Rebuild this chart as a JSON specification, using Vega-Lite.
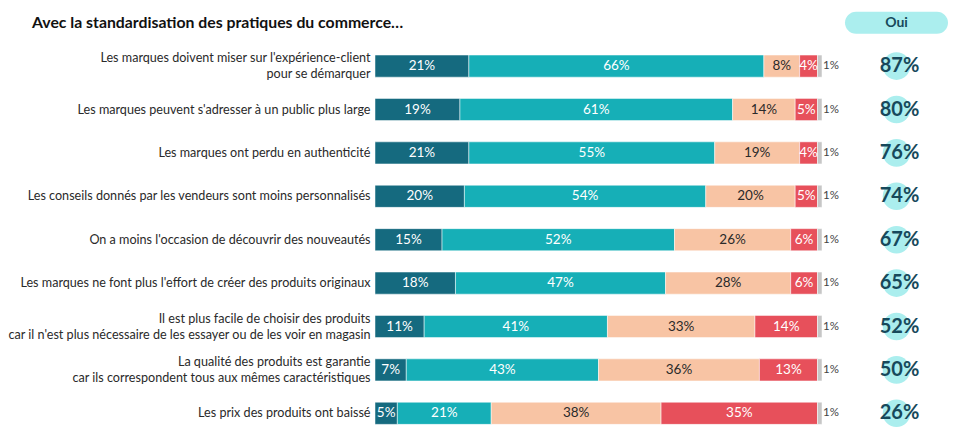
{
  "$schema": "https://vega.github.io/schema/vega-lite/v6.json",
  "padding": {"left": 6, "top": 1, "right": 5, "bottom": 5},
  "bounds": "flush",
  "spacing": 23,
  "title": {
    "text": "Avec la standardisation des pratiques du commerce…",
    "anchor": "start",
    "frame": "group",
    "offset": -31,
    "dx": -343,
    "font": "Lato",
    "fontSize": 15.8,
    "fontWeight": "bold",
    "color": "#111111"
  },
  "datasets": {
    "bars": [
      {"q": "Les marques doivent miser sur l'expérience-client|pour se démarquer", "cat": "Oui, tout à fait", "v": 0.21},
      {"q": "Les marques doivent miser sur l'expérience-client|pour se démarquer", "cat": "Oui, plutôt", "v": 0.66},
      {"q": "Les marques doivent miser sur l'expérience-client|pour se démarquer", "cat": "Non, plutôt pas", "v": 0.08},
      {"q": "Les marques doivent miser sur l'expérience-client|pour se démarquer", "cat": "Non, pas du tout", "v": 0.04},
      {"q": "Les marques doivent miser sur l'expérience-client|pour se démarquer", "cat": "Ne se prononce pas", "v": 0.01},
      {"q": "Les marques peuvent s'adresser à un public plus large", "cat": "Oui, tout à fait", "v": 0.19},
      {"q": "Les marques peuvent s'adresser à un public plus large", "cat": "Oui, plutôt", "v": 0.61},
      {"q": "Les marques peuvent s'adresser à un public plus large", "cat": "Non, plutôt pas", "v": 0.14},
      {"q": "Les marques peuvent s'adresser à un public plus large", "cat": "Non, pas du tout", "v": 0.05},
      {"q": "Les marques peuvent s'adresser à un public plus large", "cat": "Ne se prononce pas", "v": 0.01},
      {"q": "Les marques ont perdu en authenticité", "cat": "Oui, tout à fait", "v": 0.21},
      {"q": "Les marques ont perdu en authenticité", "cat": "Oui, plutôt", "v": 0.55},
      {"q": "Les marques ont perdu en authenticité", "cat": "Non, plutôt pas", "v": 0.19},
      {"q": "Les marques ont perdu en authenticité", "cat": "Non, pas du tout", "v": 0.04},
      {"q": "Les marques ont perdu en authenticité", "cat": "Ne se prononce pas", "v": 0.01},
      {"q": "Les conseils donnés par les vendeurs sont moins personnalisés", "cat": "Oui, tout à fait", "v": 0.20},
      {"q": "Les conseils donnés par les vendeurs sont moins personnalisés", "cat": "Oui, plutôt", "v": 0.54},
      {"q": "Les conseils donnés par les vendeurs sont moins personnalisés", "cat": "Non, plutôt pas", "v": 0.20},
      {"q": "Les conseils donnés par les vendeurs sont moins personnalisés", "cat": "Non, pas du tout", "v": 0.05},
      {"q": "Les conseils donnés par les vendeurs sont moins personnalisés", "cat": "Ne se prononce pas", "v": 0.01},
      {"q": "On a moins l'occasion de découvrir des nouveautés", "cat": "Oui, tout à fait", "v": 0.15},
      {"q": "On a moins l'occasion de découvrir des nouveautés", "cat": "Oui, plutôt", "v": 0.52},
      {"q": "On a moins l'occasion de découvrir des nouveautés", "cat": "Non, plutôt pas", "v": 0.26},
      {"q": "On a moins l'occasion de découvrir des nouveautés", "cat": "Non, pas du tout", "v": 0.06},
      {"q": "On a moins l'occasion de découvrir des nouveautés", "cat": "Ne se prononce pas", "v": 0.01},
      {"q": "Les marques ne font plus l'effort de créer des produits originaux", "cat": "Oui, tout à fait", "v": 0.18},
      {"q": "Les marques ne font plus l'effort de créer des produits originaux", "cat": "Oui, plutôt", "v": 0.47},
      {"q": "Les marques ne font plus l'effort de créer des produits originaux", "cat": "Non, plutôt pas", "v": 0.28},
      {"q": "Les marques ne font plus l'effort de créer des produits originaux", "cat": "Non, pas du tout", "v": 0.06},
      {"q": "Les marques ne font plus l'effort de créer des produits originaux", "cat": "Ne se prononce pas", "v": 0.01},
      {"q": "Il est plus facile de choisir des produits|car il n'est plus nécessaire de les essayer ou de les voir en magasin", "cat": "Oui, tout à fait", "v": 0.11},
      {"q": "Il est plus facile de choisir des produits|car il n'est plus nécessaire de les essayer ou de les voir en magasin", "cat": "Oui, plutôt", "v": 0.41},
      {"q": "Il est plus facile de choisir des produits|car il n'est plus nécessaire de les essayer ou de les voir en magasin", "cat": "Non, plutôt pas", "v": 0.33},
      {"q": "Il est plus facile de choisir des produits|car il n'est plus nécessaire de les essayer ou de les voir en magasin", "cat": "Non, pas du tout", "v": 0.14},
      {"q": "Il est plus facile de choisir des produits|car il n'est plus nécessaire de les essayer ou de les voir en magasin", "cat": "Ne se prononce pas", "v": 0.01},
      {"q": "La qualité des produits est garantie|car ils correspondent tous aux mêmes caractéristiques", "cat": "Oui, tout à fait", "v": 0.07},
      {"q": "La qualité des produits est garantie|car ils correspondent tous aux mêmes caractéristiques", "cat": "Oui, plutôt", "v": 0.43},
      {"q": "La qualité des produits est garantie|car ils correspondent tous aux mêmes caractéristiques", "cat": "Non, plutôt pas", "v": 0.36},
      {"q": "La qualité des produits est garantie|car ils correspondent tous aux mêmes caractéristiques", "cat": "Non, pas du tout", "v": 0.13},
      {"q": "La qualité des produits est garantie|car ils correspondent tous aux mêmes caractéristiques", "cat": "Ne se prononce pas", "v": 0.01},
      {"q": "Les prix des produits ont baissé", "cat": "Oui, tout à fait", "v": 0.05},
      {"q": "Les prix des produits ont baissé", "cat": "Oui, plutôt", "v": 0.21},
      {"q": "Les prix des produits ont baissé", "cat": "Non, plutôt pas", "v": 0.38},
      {"q": "Les prix des produits ont baissé", "cat": "Non, pas du tout", "v": 0.35},
      {"q": "Les prix des produits ont baissé", "cat": "Ne se prononce pas", "v": 0.01}
    ],
    "oui": [
      {"q": "Les marques doivent miser sur l'expérience-client|pour se démarquer", "oui": 0.87},
      {"q": "Les marques peuvent s'adresser à un public plus large", "oui": 0.80},
      {"q": "Les marques ont perdu en authenticité", "oui": 0.76},
      {"q": "Les conseils donnés par les vendeurs sont moins personnalisés", "oui": 0.74},
      {"q": "On a moins l'occasion de découvrir des nouveautés", "oui": 0.67},
      {"q": "Les marques ne font plus l'effort de créer des produits originaux", "oui": 0.65},
      {"q": "Il est plus facile de choisir des produits|car il n'est plus nécessaire de les essayer ou de les voir en magasin", "oui": 0.52},
      {"q": "La qualité des produits est garantie|car ils correspondent tous aux mêmes caractéristiques", "oui": 0.50},
      {"q": "Les prix des produits ont baissé", "oui": 0.26}
    ],
    "header": [
      {"q": "header", "t": "Oui"}
    ]
  },
  "hconcat": [
    {
      "width": 447,
      "height": 434,
      "data": {"name": "bars"},
      "encoding": {
        "y": {
          "field": "q",
          "type": "nominal",
          "title": null,
          "scale": {
            "domain": [
              "header",
              "Les marques doivent miser sur l'expérience-client|pour se démarquer",
              "Les marques peuvent s'adresser à un public plus large",
              "Les marques ont perdu en authenticité",
              "Les conseils donnés par les vendeurs sont moins personnalisés",
              "On a moins l'occasion de découvrir des nouveautés",
              "Les marques ne font plus l'effort de créer des produits originaux",
              "Il est plus facile de choisir des produits|car il n'est plus nécessaire de les essayer ou de les voir en magasin",
              "La qualité des produits est garantie|car ils correspondent tous aux mêmes caractéristiques",
              "Les prix des produits ont baissé"
            ],
            "paddingInner": 0.49,
            "paddingOuter": 0.245
          },
          "axis": {
            "labelExpr": "datum.value == 'header' ? '' : split(datum.value, '|')",
            "ticks": false,
            "domain": false,
            "labelPadding": 5,
            "labelFont": "Lato",
            "labelFontSize": 12.6,
            "labelColor": "#2a2a2a",
            "labelLimit": 420,
            "labelLineHeight": 16,
            "labelOffset": {"condition": {"test": "indexof(datum.value, '|') >= 0", "value": -8}, "value": 0}
          }
        },
        "order": {"field": "cat", "sort": "descending"}
      },
      "layer": [
        {
          "mark": {"type": "bar", "stroke": "white", "strokeWidth": 0.5},
          "encoding": {
            "x": {"field": "v", "type": "quantitative", "stack": "zero", "scale": {"domain": [0, 1]}, "axis": null},
            "color": {
              "field": "cat",
              "type": "nominal",
              "scale": {
                "domain": ["Oui, tout à fait", "Oui, plutôt", "Non, plutôt pas", "Non, pas du tout", "Ne se prononce pas"],
                "range": ["#156a7f", "#16afb7", "#f8c4a4", "#e7505b", "#c6c6c6"]
              },
              "legend": null
            }
          }
        },
        {
          "mark": {"type": "text", "font": "Lato", "fontSize": 13.5},
          "encoding": {
            "x": {"field": "v", "type": "quantitative", "stack": "zero", "bandPosition": 0.5},
            "text": {
              "condition": {"test": "datum.cat == 'Ne se prononce pas'", "value": ""},
              "field": "v",
              "type": "quantitative",
              "format": ".0%"
            },
            "color": {
              "field": "cat",
              "type": "nominal",
              "scale": {
                "domain": ["Oui, tout à fait", "Oui, plutôt", "Non, plutôt pas", "Non, pas du tout", "Ne se prononce pas"],
                "range": ["#ffffff", "#ffffff", "#2a2a2a", "#ffffff", "#ffffff"]
              },
              "legend": null
            }
          }
        },
        {
          "mark": {"type": "text", "font": "Lato", "fontSize": 11.5, "align": "left", "dx": 1, "color": "#444444"},
          "encoding": {
            "x": {"field": "v", "type": "quantitative", "stack": "zero"},
            "detail": {"field": "cat"},
            "text": {
              "condition": {"test": "datum.cat != 'Ne se prononce pas'", "value": ""},
              "field": "v",
              "type": "quantitative",
              "format": ".0%"
            }
          }
        }
      ],
      "resolve": {"scale": {"color": "independent"}}
    },
    {
      "width": 103,
      "height": 434,
      "encoding": {
        "y": {
          "field": "q",
          "type": "nominal",
          "title": null,
          "axis": null,
          "scale": {
            "domain": [
              "header",
              "Les marques doivent miser sur l'expérience-client|pour se démarquer",
              "Les marques peuvent s'adresser à un public plus large",
              "Les marques ont perdu en authenticité",
              "Les conseils donnés par les vendeurs sont moins personnalisés",
              "On a moins l'occasion de découvrir des nouveautés",
              "Les marques ne font plus l'effort de créer des produits originaux",
              "Il est plus facile de choisir des produits|car il n'est plus nécessaire de les essayer ou de les voir en magasin",
              "La qualité des produits est garantie|car ils correspondent tous aux mêmes caractéristiques",
              "Les prix des produits ont baissé"
            ],
            "paddingInner": 0.49,
            "paddingOuter": 0.245
          }
        }
      },
      "layer": [
        {
          "data": {"name": "header"},
          "mark": {"type": "bar", "cornerRadius": 11.5, "color": "#abeeee"}
        },
        {
          "data": {"name": "header"},
          "mark": {"type": "text", "font": "Lato", "fontSize": 14, "fontWeight": "bold", "color": "#17495b"},
          "encoding": {"text": {"field": "t"}}
        },
        {
          "data": {"name": "oui"},
          "mark": {"type": "circle", "size": 760, "color": "#abeeee", "opacity": 1}
        },
        {
          "data": {"name": "oui"},
          "mark": {"type": "text", "font": "Lato", "fontSize": 20, "fontWeight": "bold", "color": "#17495b", "dx": 3},
          "encoding": {"text": {"field": "oui", "type": "quantitative", "format": ".0%"}}
        }
      ]
    }
  ],
  "config": {
    "view": {"stroke": null},
    "font": "Lato"
  }
}
